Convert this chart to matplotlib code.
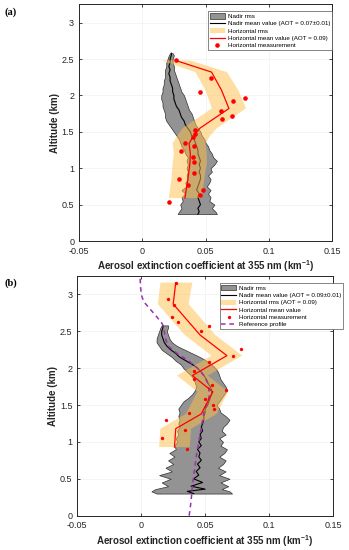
import matplotlib
matplotlib.use("Agg")
import matplotlib.pyplot as plt
from matplotlib.patches import Patch
from matplotlib.lines import Line2D

plt.rcParams['font.family'] = ['Liberation Sans', 'DejaVu Sans']

# ---------------- Panel (a) data ----------------
nadir_alt_a = [0.37, 0.40, 0.45, 0.50, 0.55, 0.60, 0.65, 0.70, 0.75, 0.80, 0.85, 0.90, 0.95,
               1.00, 1.05, 1.10, 1.15, 1.20, 1.25, 1.30, 1.35, 1.40, 1.45, 1.50, 1.55, 1.60,
               1.65, 1.70, 1.75, 1.80, 1.85, 1.90, 1.95, 2.00, 2.05, 2.10, 2.15, 2.20, 2.25,
               2.30, 2.35, 2.40, 2.45, 2.50, 2.55, 2.58]
nadir_mean_a = [0.044, 0.045, 0.044, 0.046, 0.045, 0.044, 0.045, 0.043, 0.044, 0.045, 0.046, 0.046, 0.045,
                0.046, 0.045, 0.046, 0.045, 0.044, 0.044, 0.043, 0.042, 0.041, 0.039, 0.038, 0.036, 0.034,
                0.033, 0.031, 0.030, 0.029, 0.027, 0.026, 0.025, 0.025, 0.024, 0.024, 0.023, 0.022, 0.022,
                0.021, 0.022, 0.021, 0.022, 0.022, 0.023, 0.023]
nadir_lo_a = [0.028, 0.029, 0.031, 0.030, 0.032, 0.031, 0.034, 0.031, 0.035, 0.034, 0.036, 0.035, 0.036,
              0.035, 0.036, 0.035, 0.036, 0.034, 0.033, 0.031, 0.030, 0.029, 0.027, 0.025, 0.023, 0.021,
              0.019, 0.018, 0.018, 0.017, 0.016, 0.016, 0.015, 0.015, 0.016, 0.016, 0.017, 0.017, 0.018,
              0.018, 0.018, 0.019, 0.019, 0.020, 0.021, 0.022]
nadir_hi_a = [0.059, 0.058, 0.055, 0.057, 0.053, 0.054, 0.052, 0.054, 0.051, 0.053, 0.054, 0.052, 0.055,
              0.054, 0.057, 0.059, 0.056, 0.055, 0.053, 0.052, 0.050, 0.049, 0.047, 0.046, 0.044, 0.042,
              0.041, 0.040, 0.039, 0.037, 0.036, 0.035, 0.034, 0.033, 0.031, 0.030, 0.029, 0.028, 0.027,
              0.026, 0.025, 0.025, 0.024, 0.024, 0.025, 0.024]

hor_alt_a = [0.59, 0.84, 1.07, 1.20, 1.34, 1.43, 1.55, 1.82, 2.07, 2.32, 2.48]
hor_mean_a = [0.0337, 0.036, 0.0377, 0.038, 0.037, 0.040, 0.0456, 0.0685, 0.0627, 0.0548, 0.0264]
hor_lo_a = [0.021, 0.023, 0.024, 0.025, 0.024, 0.027, 0.032, 0.055, 0.050, 0.042, 0.0150]
hor_hi_a = [0.047, 0.049, 0.051, 0.051, 0.050, 0.053, 0.059, 0.082, 0.076, 0.067, 0.038]

meas_x_a = [0.0264, 0.0543, 0.0456, 0.0811, 0.0719, 0.0622, 0.0706, 0.0627, 0.0416, 0.0416,
            0.040, 0.0337, 0.041, 0.031, 0.0405, 0.041, 0.041, 0.029, 0.036, 0.048, 0.0455, 0.021]
meas_y_a = [2.48, 2.24, 2.04, 1.97, 1.92, 1.78, 1.72, 1.67, 1.53, 1.47,
            1.43, 1.35, 1.30, 1.23, 1.15, 1.08, 0.93, 0.85, 0.77, 0.70, 0.63, 0.53]

# ---------------- Panel (b) data ----------------
nadir_alt_b = [0.30, 0.33, 0.36, 0.40, 0.45, 0.50, 0.55, 0.60, 0.65, 0.70, 0.75, 0.80, 0.85, 0.90,
               0.95, 1.00, 1.05, 1.10, 1.15, 1.20, 1.25, 1.30, 1.35, 1.40, 1.45, 1.50, 1.55, 1.60,
               1.65, 1.70, 1.75, 1.80, 1.85, 1.90, 1.95, 2.00, 2.05, 2.10, 2.15, 2.20, 2.25, 2.30,
               2.35, 2.40, 2.45, 2.50, 2.55, 2.58]
nadir_mean_b = [0.041, 0.036, 0.050, 0.039, 0.048, 0.041, 0.045, 0.043, 0.046, 0.044, 0.047, 0.045, 0.046, 0.044,
                0.047, 0.045, 0.047, 0.046, 0.048, 0.047, 0.048, 0.049, 0.049, 0.050, 0.050, 0.052, 0.053, 0.054,
                0.055, 0.055, 0.054, 0.052, 0.051, 0.049, 0.047, 0.044, 0.040, 0.035, 0.030, 0.027, 0.023, 0.020,
                0.018, 0.017, 0.016, 0.016, 0.017, 0.017]
nadir_lo_b = [0.012, 0.008, 0.011, 0.021, 0.016, 0.023, 0.014, 0.024, 0.019, 0.025, 0.021, 0.026, 0.022, 0.027,
              0.026, 0.028, 0.027, 0.029, 0.028, 0.030, 0.029, 0.030, 0.029, 0.030, 0.029, 0.031, 0.033, 0.037,
              0.040, 0.042, 0.043, 0.042, 0.041, 0.039, 0.036, 0.033, 0.031, 0.027, 0.024, 0.020, 0.016, 0.014,
              0.012, 0.012, 0.013, 0.014, 0.015, 0.016]
nadir_hi_b = [0.071, 0.069, 0.063, 0.068, 0.062, 0.069, 0.061, 0.066, 0.060, 0.064, 0.066, 0.061, 0.065, 0.067,
              0.062, 0.064, 0.061, 0.066, 0.063, 0.064, 0.067, 0.069, 0.066, 0.062, 0.061, 0.059, 0.061, 0.063,
              0.065, 0.067, 0.066, 0.064, 0.062, 0.061, 0.060, 0.058, 0.055, 0.051, 0.046, 0.040, 0.034, 0.028,
              0.024, 0.022, 0.021, 0.020, 0.021, 0.021]

hor_alt_b = [0.93, 1.18, 1.38, 1.45, 1.68, 1.90, 2.17, 2.45, 2.87, 3.16]
hor_mean_b = [0.026, 0.027, 0.047, 0.049, 0.056, 0.040, 0.067, 0.046, 0.025, 0.027]
hor_lo_b = [0.014, 0.015, 0.035, 0.037, 0.044, 0.028, 0.055, 0.034, 0.013, 0.015]
hor_hi_b = [0.038, 0.039, 0.059, 0.061, 0.068, 0.052, 0.079, 0.058, 0.037, 0.040]

meas_x_b = [0.0272, 0.0212, 0.026, 0.0244, 0.0286, 0.047, 0.053, 0.078, 0.072, 0.0527, 0.041,
            0.0416, 0.055, 0.066, 0.050, 0.056, 0.0573, 0.037, 0.019, 0.0346, 0.016, 0.036]
meas_y_b = [3.16, 2.94, 2.85, 2.70, 2.63, 2.50, 2.57, 2.26, 2.17, 2.09, 1.96,
            1.85, 1.77, 1.70, 1.58, 1.50, 1.44, 1.39, 1.30, 1.16, 1.05, 0.91]

ref_alt = [0.0, 0.2, 0.4, 0.6, 0.8, 1.0, 1.2, 1.4, 1.5, 1.6, 1.7, 1.8, 1.9, 2.0, 2.1, 2.2,
           2.3, 2.4, 2.5, 2.6, 2.7, 2.8, 2.9, 3.0, 3.1, 3.25]
ref_x = [0.0375, 0.039, 0.040, 0.0415, 0.043, 0.045, 0.047, 0.049, 0.051, 0.053, 0.053, 0.052,
         0.049, 0.044, 0.037, 0.028, 0.021, 0.019, 0.018, 0.0165, 0.012, 0.007, 0.002, 0.0,
         -0.0005, -0.001]

x_ticks = [-0.05, 0, 0.05, 0.1, 0.15]
x_ticklabels = ['-0.05', '0', '0.05', '0.1', '0.15']
y_ticks = [0, 0.5, 1, 1.5, 2, 2.5, 3]
y_ticklabels = ['0', '0.5', '1', '1.5', '2', '2.5', '3']

GRAY = '#939393'
ORANGE = '#ffbf48'
PURPLE = '#9b30b0'
AXC = '#262626'

fig = plt.figure(figsize=(3.49, 5.5), dpi=100)


def style_axes(ax):
    ax.set_xlim(-0.05, 0.15)
    ax.set_ylim(0, 3.25)
    ax.set_xticks(x_ticks)
    ax.set_xticklabels(x_ticklabels)
    ax.set_yticks(y_ticks)
    ax.set_yticklabels(y_ticklabels)
    ax.tick_params(direction='in', top=True, right=True, length=2.5, width=0.6,
                   labelsize=6.5, colors=AXC)
    ax.tick_params(axis='x', pad=4)
    ax.tick_params(axis='y', pad=3.5)
    for s in ax.spines.values():
        s.set_color(AXC)
        s.set_linewidth(0.7)
    ax.grid(True, color='#f0f0f0', linewidth=0.5)
    ax.set_axisbelow(True)
    ax.set_xlabel('Aerosol extinction coefficient at 355 nm (km$^{\\mathregular{-1}}$)',
                  fontsize=7, fontweight='bold', color=AXC, labelpad=2)
    ax.set_ylabel('Altitude (km)', fontsize=7, fontweight='bold', color=AXC, labelpad=1.5)


# ---------------- Panel (a) ----------------
ax1 = fig.add_axes([0.2264, 0.5618, 0.7249, 0.4302])
ax1.fill_betweenx(nadir_alt_a, nadir_lo_a, nadir_hi_a, facecolor=GRAY, edgecolor='#303030',
                  linewidth=0.5, zorder=2)
ax1.plot(nadir_mean_a, nadir_alt_a, color='black', linewidth=0.8, zorder=3)
ax1.fill_betweenx(hor_alt_a, hor_lo_a, hor_hi_a, facecolor=ORANGE, alpha=0.5, linewidth=0, zorder=4)
ax1.plot(hor_mean_a, hor_alt_a, color='red', linewidth=0.9, zorder=5)
ax1.plot(meas_x_a, meas_y_a, 'o', color='red', markersize=3.3, markeredgewidth=0, zorder=6)
style_axes(ax1)

h_a = [Patch(facecolor=GRAY, edgecolor='#303030', linewidth=0.5),
       Line2D([], [], color='black', linewidth=0.8),
       Patch(facecolor=ORANGE, alpha=0.5, linewidth=0),
       Line2D([], [], color='red', linewidth=0.9),
       Line2D([], [], marker='o', color='red', linestyle='none', markersize=3.3, markeredgewidth=0)]
l_a = ['Nadir rms', 'Nadir mean value (AOT = 0.07\u00b10.01)', 'Horizontal rms',
       'Horizontal mean value (AOT = 0.09)', 'Horizontal measurement']
leg = ax1.legend(h_a, l_a, loc='upper right', bbox_to_anchor=(1.0, 0.97), fontsize=4.5,
                 frameon=True, fancybox=False, edgecolor='#555555', framealpha=1,
                 handlelength=2.3, handleheight=0.9, labelspacing=0.25, borderpad=0.3,
                 handletextpad=0.5, borderaxespad=0)
leg.get_frame().set_linewidth(0.5)
leg.set_zorder(10)

# ---------------- Panel (b) ----------------
ax2 = fig.add_axes([0.2215, 0.0624, 0.7327, 0.4358])
ax2.fill_betweenx(nadir_alt_b, nadir_lo_b, nadir_hi_b, facecolor=GRAY, edgecolor='#303030',
                  linewidth=0.5, zorder=2)
ax2.plot(nadir_mean_b, nadir_alt_b, color='black', linewidth=0.8, zorder=3)
ax2.fill_betweenx(hor_alt_b, hor_lo_b, hor_hi_b, facecolor=ORANGE, alpha=0.5, linewidth=0, zorder=4)
ax2.plot(ref_x, ref_alt, color=PURPLE, linewidth=1.1, linestyle=(0, (3, 2.5)), zorder=5)
ax2.plot(hor_mean_b, hor_alt_b, color='red', linewidth=0.9, zorder=6)
ax2.plot(meas_x_b, meas_y_b, 'o', color='red', markersize=2.4, markeredgewidth=0, zorder=7)
style_axes(ax2)

h_b = [Patch(facecolor=GRAY, edgecolor='#303030', linewidth=0.5),
       Line2D([], [], color='black', linewidth=0.8),
       Patch(facecolor=ORANGE, alpha=0.5, linewidth=0),
       Line2D([], [], color='red', linewidth=0.9),
       Line2D([], [], marker='o', color='red', linestyle='none', markersize=2.4, markeredgewidth=0),
       Line2D([], [], color=PURPLE, linewidth=1.1, linestyle=(0, (3, 2.5)))]
l_b = ['Nadir rms', 'Nadir mean value (AOT = 0.09\u00b10.01)', 'Horizontal rms (AOT = 0.09)',
       'Horizontal mean value', 'Horizontal measurement', 'Reference profile']
leg2 = ax2.legend(h_b, l_b, loc='upper right', bbox_to_anchor=(1.04, 0.97), fontsize=4.5,
                  frameon=True, fancybox=False, edgecolor='#555555', framealpha=1,
                  handlelength=2.3, handleheight=0.9, labelspacing=0.25, borderpad=0.3,
                  handletextpad=0.5, borderaxespad=0)
leg2.get_frame().set_linewidth(0.5)
leg2.set_zorder(10)

fig.text(0.014, 0.978, '(a)', fontsize=7.5, fontweight='bold', family='Liberation Serif',
         va='center', ha='left')
fig.text(0.014, 0.485, '(b)', fontsize=7.5, fontweight='bold', family='Liberation Serif',
         va='center', ha='left')

fig.savefig('out.png', dpi=100)
